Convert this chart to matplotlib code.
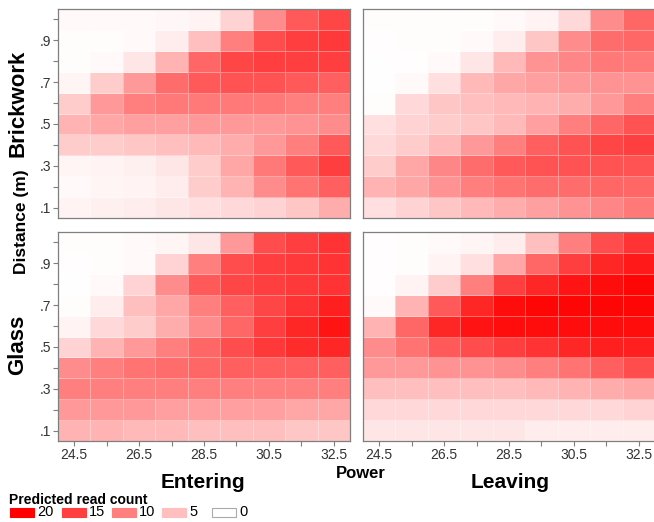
import numpy as np
import matplotlib.pyplot as plt
from matplotlib.colors import LinearSegmentedColormap, Normalize
from matplotlib.patches import Rectangle

plt.rcParams['font.family'] = ['Liberation Sans', 'DejaVu Sans']

power = [24.5, 25.5, 26.5, 27.5, 28.5, 29.5, 30.5, 31.5, 32.5]
distance = [0.1, 0.2, 0.3, 0.4, 0.5, 0.6, 0.7, 0.8, 0.9, 1.0]
power_labels = ['24.5', '', '26.5', '', '28.5', '', '30.5', '', '32.5']
dist_labels = ['.1', '', '.3', '', '.5', '', '.7', '', '.9', '']
legend_values = [20, 15, 10, 5, 0]

# rows: distance 0.1 (first) ... 1.0 (last)
brick_entering = [
    [1.0, 1.2, 1.5, 2.0, 2.5, 3.0, 3.5, 4.5, 6.5],
    [0.5, 0.8, 1.0, 1.5, 4.0, 6.0, 9.0, 11.0, 12.5],
    [0.8, 1.0, 1.2, 2.0, 4.0, 7.0, 10.5, 13.0, 15.0],
    [4.0, 4.0, 4.5, 5.0, 5.5, 6.5, 8.0, 10.0, 13.0],
    [6.0, 7.0, 7.5, 7.5, 8.0, 8.0, 8.0, 8.5, 9.0],
    [4.0, 8.0, 10.0, 10.5, 10.5, 10.5, 10.5, 10.0, 10.0],
    [0.8, 4.0, 8.0, 11.5, 13.0, 13.5, 13.5, 13.0, 12.5],
    [0.3, 0.5, 2.0, 6.0, 12.0, 14.5, 15.0, 15.0, 15.0],
    [0.3, 0.3, 0.5, 1.5, 5.0, 10.0, 14.0, 15.0, 15.5],
    [0.5, 0.5, 0.5, 0.7, 1.0, 3.5, 9.0, 13.0, 14.5],
]
brick_leaving = [
    [2.5, 3.5, 4.5, 5.5, 6.5, 7.5, 8.5, 9.5, 10.5],
    [6.0, 7.0, 8.5, 10.0, 11.0, 11.5, 11.5, 12.0, 12.0],
    [4.0, 7.0, 9.5, 11.5, 13.0, 13.5, 13.5, 13.5, 13.5],
    [3.0, 4.0, 5.5, 8.0, 10.0, 12.5, 13.5, 14.5, 15.0],
    [2.5, 3.5, 4.0, 4.5, 5.5, 7.5, 10.0, 12.0, 13.5],
    [0.3, 3.0, 4.5, 5.0, 5.5, 6.0, 6.5, 8.0, 10.0],
    [0.1, 0.5, 2.5, 5.5, 7.0, 7.5, 8.0, 8.5, 8.5],
    [0.1, 0.2, 0.5, 2.0, 5.5, 8.5, 9.5, 10.5, 10.5],
    [0.2, 0.3, 0.3, 0.5, 1.5, 4.5, 9.0, 11.5, 12.0],
    [0.3, 0.3, 0.3, 0.3, 0.5, 1.0, 3.0, 9.0, 12.0],
]
glass_entering = [
    [6.0, 6.0, 5.5, 5.5, 5.0, 5.0, 5.0, 4.5, 4.5],
    [8.0, 8.0, 8.0, 7.5, 7.5, 7.5, 7.5, 7.0, 7.0],
    [10.0, 10.0, 10.0, 10.0, 10.0, 10.0, 10.0, 10.0, 10.0],
    [9.0, 10.0, 11.0, 11.5, 12.0, 12.5, 12.5, 12.5, 12.5],
    [3.5, 6.0, 8.0, 10.0, 12.0, 14.0, 15.5, 16.5, 17.0],
    [1.0, 3.0, 4.0, 6.5, 9.0, 12.0, 15.0, 17.0, 18.5],
    [0.3, 1.5, 5.0, 7.0, 10.0, 12.5, 14.5, 16.0, 17.5],
    [0.1, 0.5, 3.5, 9.0, 13.0, 14.5, 15.0, 15.5, 16.0],
    [0.2, 0.3, 0.5, 3.5, 10.0, 14.0, 15.0, 15.5, 16.0],
    [0.3, 0.3, 0.5, 0.8, 2.0, 8.0, 14.0, 15.0, 16.0],
]
glass_leaving = [
    [2.0, 2.0, 2.0, 2.0, 2.0, 1.5, 1.5, 1.5, 1.5],
    [3.0, 3.0, 3.0, 3.0, 3.0, 3.0, 3.0, 3.0, 3.5],
    [5.0, 5.0, 5.0, 5.0, 5.0, 5.5, 6.0, 6.5, 7.0],
    [8.0, 8.0, 8.5, 8.5, 9.0, 10.0, 11.0, 12.5, 14.0],
    [9.0, 11.0, 13.0, 14.0, 15.0, 16.0, 17.0, 17.5, 17.5],
    [6.0, 12.0, 17.0, 18.5, 19.0, 19.0, 19.0, 19.0, 19.0],
    [0.5, 6.0, 13.0, 17.0, 19.0, 19.5, 19.5, 19.5, 19.5],
    [0.2, 1.0, 4.0, 10.0, 15.0, 17.0, 18.5, 19.0, 19.5],
    [0.2, 0.3, 1.0, 2.5, 7.0, 12.0, 15.0, 17.0, 18.0],
    [0.2, 0.3, 0.5, 0.8, 1.5, 5.0, 10.0, 14.0, 16.0],
]

cmap = LinearSegmentedColormap.from_list('wr', ['#ffffff', '#ff0000'])
norm = Normalize(0, 20)

fig = plt.figure(figsize=(6.54, 5.22), dpi=100)
W, H = 654.0, 522.0

def add_panel(left, top, data, show_x):
    ax = fig.add_axes([left / W, 1 - (top + 209) / H, 292 / W, 209 / H])
    xe = np.concatenate([np.array(power) - 0.5, [power[-1] + 0.5]])
    ye = np.concatenate([np.array(distance) - 0.05, [distance[-1] + 0.05]])
    ax.pcolormesh(xe, ye, np.array(data), cmap=cmap, norm=norm,
                  edgecolors=(1, 1, 1, 0.35), linewidth=0.4)
    ax.set_xlim(xe[0], xe[-1])
    ax.set_ylim(ye[0], ye[-1])
    for s in ax.spines.values():
        s.set_color('#7f7f7f')
        s.set_linewidth(0.9)
    ax.set_xticks(power)
    ax.set_yticks(distance)
    ax.tick_params(colors='#7f7f7f', labelcolor='#333333', labelsize=10,
                   length=3.5, width=0.8, pad=1.5)
    if show_x:
        ax.set_xticklabels(power_labels)
    else:
        ax.set_xticklabels([])
        ax.tick_params(axis='x', length=0)
    if left < 100:
        ax.set_yticklabels(dist_labels)
    else:
        ax.set_yticklabels([])
        ax.tick_params(axis='y', length=0)
    return ax

add_panel(58, 9, brick_entering, False)
add_panel(363, 9, brick_leaving, False)
add_panel(58, 232, glass_entering, True)
add_panel(363, 232, glass_leaving, True)

fig.text(18 / W, 1 - 103 / H, 'Brickwork', rotation=90, fontsize=16,
         fontweight='bold', ha='center', va='center')
fig.text(18 / W, 1 - 345 / H, 'Glass', rotation=90, fontsize=16,
         fontweight='bold', ha='center', va='center')
fig.text(22 / W, 1 - 222 / H, 'Distance (m)', rotation=90, fontsize=12.5,
         fontweight='bold', ha='center', va='center')
fig.text(361 / W, 1 - 473 / H, 'Power', fontsize=12, fontweight='bold',
         ha='center', va='center')
fig.text(203 / W, 1 - 482 / H, 'Entering', fontsize=15, fontweight='bold',
         ha='center', va='center')
fig.text(510 / W, 1 - 482 / H, 'Leaving', fontsize=15, fontweight='bold',
         ha='center', va='center')

# legend
fig.text(9 / W, 1 - 500 / H, 'Predicted read count', fontsize=10,
         fontweight='bold', ha='left', va='center')
box_x = [10, 62, 112, 162, 212]
for bx, v in zip(box_x, legend_values):
    fig.patches.append(Rectangle((bx / W, 1 - 517 / H), 24 / W, 9 / H,
                                 transform=fig.transFigure,
                                 facecolor=cmap(norm(v)),
                                 edgecolor='#aaaaaa' if v == 0 else cmap(norm(v)),
                                 linewidth=0.8))
    fig.text((bx + 27) / W, 1 - 512.5 / H, str(v), fontsize=10.5,
             ha='left', va='center')

fig.savefig('out.png', dpi=100)
